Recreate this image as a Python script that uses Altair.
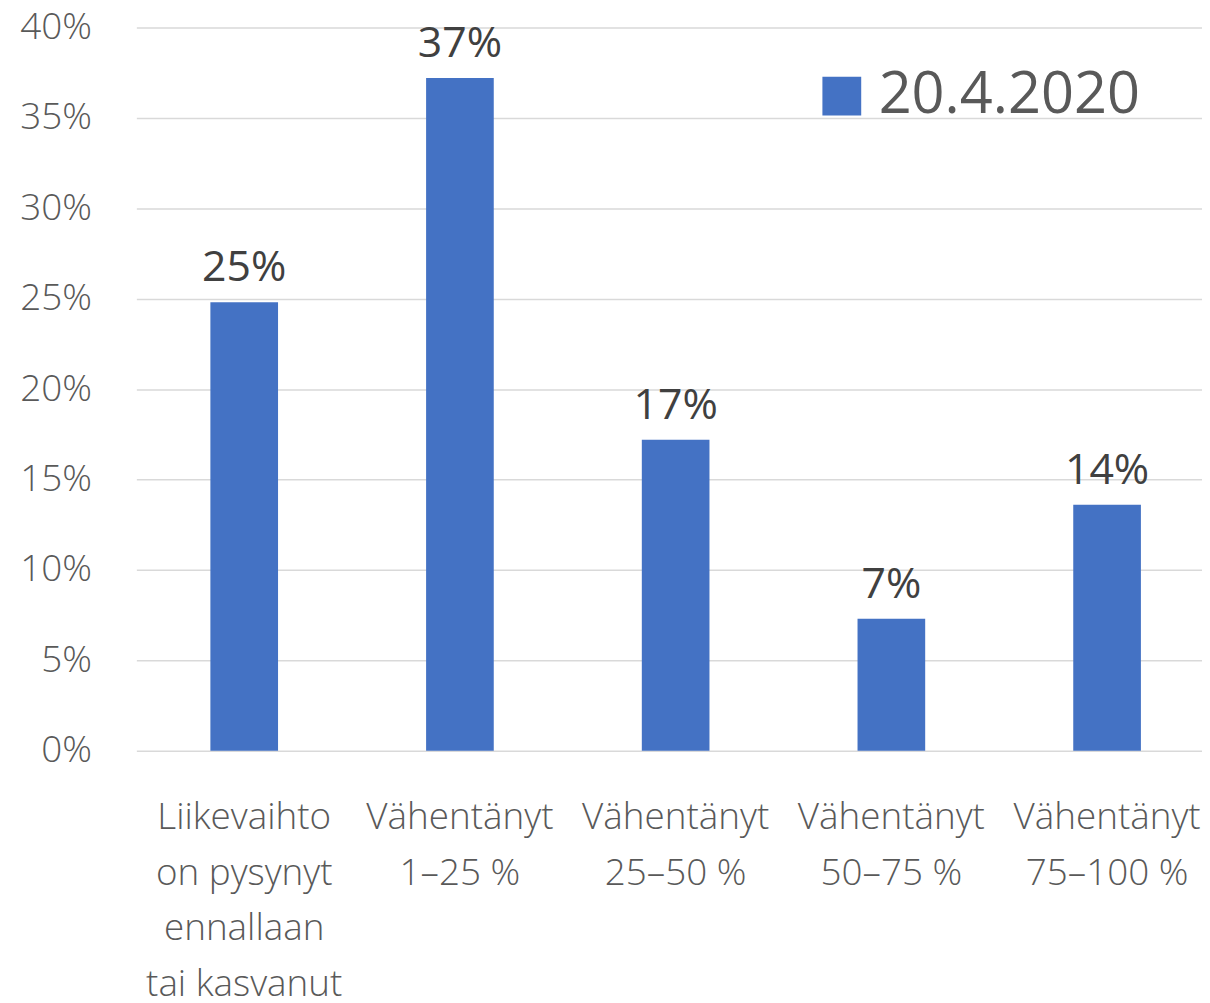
import altair as alt
import pandas as pd

categories = [
    "Liikevaihto\non pysynyt\nennallaan\ntai kasvanut",
    "Vähentänyt\n1–25 %",
    "Vähentänyt\n25–50 %",
    "Vähentänyt\n50–75 %",
    "Vähentänyt\n75–100 %",
]
values = [0.248, 0.372, 0.172, 0.073, 0.136]
series_name = "20.4.2020"
y_ticks = [0, 0.05, 0.10, 0.15, 0.20, 0.25, 0.30, 0.35, 0.40]

df = pd.DataFrame({"cat": categories, "val": values, "series": [series_name] * len(values)})

FONT = "Open Sans"

base = alt.Chart(df).encode(
    x=alt.X(
        "cat:N",
        sort=categories,
        title=None,
        scale=alt.Scale(paddingInner=0, paddingOuter=0, range=[1, 1085]),
        axis=alt.Axis(
            labelExpr="split(datum.label, '\\n')",
            labelAngle=0,
            labelFont=FONT,
            labelFontSize=37,
            labelFontWeight=300,
            labelColor="#595959",
            labelLineHeight=56,
            labelPadding=49,
            labelBaseline="top",
            ticks=False,
            domain=False,
            grid=False,
            labelLimit=400,
        ),
    ),
)

bars = base.mark_bar(size=68, color="#4472C4").encode(
    y=alt.Y(
        "val:Q",
        title=None,
        scale=alt.Scale(domain=[0, 0.4], nice=False),
        axis=alt.Axis(
            values=y_ticks,
            format=".0%",
            labelFont=FONT,
            labelFontSize=37,
            labelFontWeight=300,
            labelColor="#595959",
            labelPadding=44,
            ticks=False,
            domain=False,
            gridColor="#d9d9d9",
            gridWidth=1.5,
        ),
    ),
    color=alt.Color(
        "series:N",
        scale=alt.Scale(range=["#4472C4"]),
        legend=alt.Legend(
            title=None,
            orient="none",
            legendX=681,
            legendY=40,
            symbolType="square",
            symbolSize=1521,
            symbolStrokeWidth=0,
            labelFont=FONT,
            labelFontSize=58,
            labelColor="#595959",
            labelOffset=8,
            labelLimit=600,
        ),
    ),
)

labels = base.mark_text(
    font=FONT, fontSize=43, color="#404040", baseline="alphabetic", dy=-21
).encode(
    y=alt.Y("val:Q"),
    text=alt.Text("val:Q", format=".0%"),
)

chart = (
    (bars + labels)
    .properties(
        width=1072,
        height=727,
        autosize=alt.AutoSizeParams(type="none"),
        padding={"left": 128, "top": 17, "right": 0, "bottom": 251},
    )
    .configure_view(stroke=None)
)

chart.save("out.html", embed_options={"renderer": "svg", "actions": False})
